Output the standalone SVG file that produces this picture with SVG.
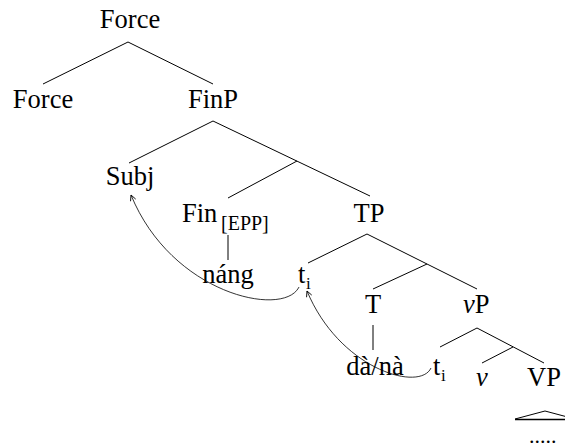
<svg xmlns="http://www.w3.org/2000/svg" width="565" height="448" viewBox="0 0 565 448">
<style>
text{font-family:"Liberation Serif","Times New Roman",serif;font-size:26.5px;fill:#000}
.c{text-anchor:middle}
.sub{font-size:20px}
.si{font-size:17px}
.it{font-style:italic}
.dots{font-size:22px}
.e line,.e polyline{stroke:#000;stroke-width:1;fill:none}
.mv{stroke:#000;stroke-width:0.8;fill:none}
</style>
<defs>
<marker id="ah" viewBox="0 0 10 10" refX="9" refY="5" markerWidth="7" markerHeight="7" markerUnits="userSpaceOnUse" orient="auto">
<path d="M1,1 L9,5 L1,9" fill="none" stroke="#000" stroke-width="1.2"/>
</marker>
</defs>
<g id="connectors" class="e">
<line x1="128" y1="42" x2="43" y2="84"/>
<line x1="128" y1="42" x2="213" y2="84"/>
<line x1="213" y1="121" x2="129" y2="163"/>
<line x1="213" y1="121" x2="370" y2="196"/>
<line x1="297" y1="161" x2="228" y2="198"/>
<line x1="228" y1="235" x2="228" y2="260"/>
<line x1="367" y1="234" x2="308" y2="263"/>
<line x1="367" y1="234" x2="477" y2="289"/>
<line x1="427" y1="264" x2="373" y2="289"/>
<line x1="373" y1="325" x2="373" y2="350"/>
<line x1="477" y1="328" x2="440" y2="347"/>
<line x1="477" y1="328" x2="544" y2="363"/>
<line x1="513" y1="347" x2="482" y2="363"/>
<polyline points="515,419 545,411 575,419"/>
<line x1="515" y1="419.5" x2="565" y2="419.5" style="stroke-width:1.3"/>
<path class="mv" d="M299,287 C284,318 172,295 131,195" marker-end="url(#ah)"/>
<path class="mv" d="M431,368 C420,392 340,370 307,291" marker-end="url(#ah)"/>
</g>
<g id="n-force-root"><text class="c" x="130" y="28">Force</text></g>
<g id="n-force"><text class="c" x="43" y="108">Force</text></g>
<g id="n-finp"><text class="c" x="213" y="108">FinP</text></g>
<g id="n-subj"><text class="c" x="130" y="185">Subj</text></g>
<g id="n-fin"><text x="182" y="222">Fin</text><text class="sub" x="221" y="230">[EPP]</text></g>
<g id="n-tp"><text class="c" x="369" y="222">TP</text></g>
<g id="n-nang"><text class="c" x="228" y="283">náng</text></g>
<g id="n-ti1"><text x="298" y="283">t</text><text class="si" x="306" y="289">i</text></g>
<g id="n-t"><text class="c" x="373" y="313">T</text></g>
<g id="n-vp"><text x="463" y="313"><tspan class="it">v</tspan>P</text></g>
<g id="n-dana"><text class="c" x="375" y="375">dà/nà</text></g>
<g id="n-ti2"><text x="433" y="375">t</text><text class="si" x="441" y="381">i</text></g>
<g id="n-v"><text class="c it" x="482" y="386">v</text></g>
<g id="n-vp2"><text class="c" x="544" y="386">VP</text></g>
<g id="n-dots"><text class="dots" x="529" y="443">.....</text></g>
</svg>
